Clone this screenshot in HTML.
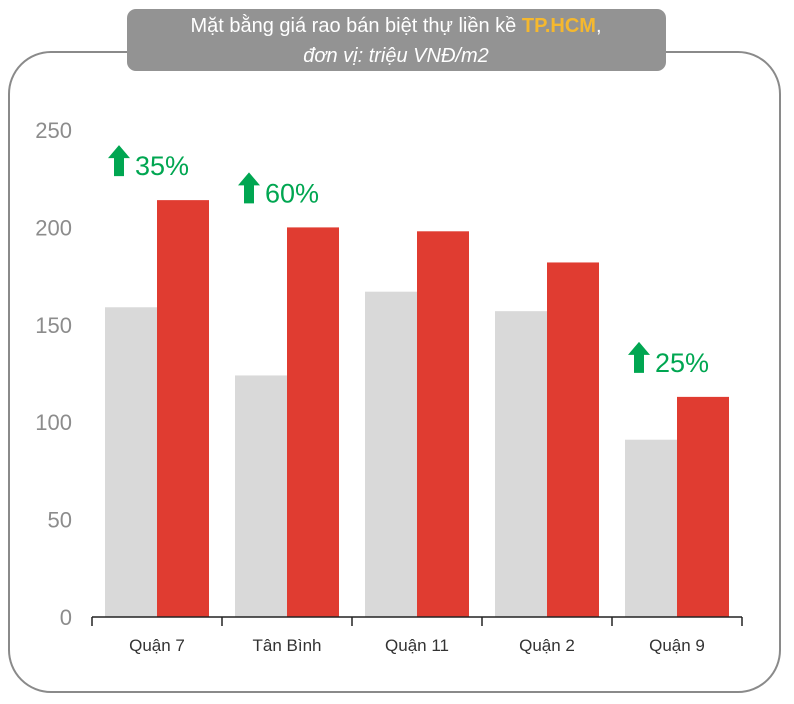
<!DOCTYPE html>
<html><head><meta charset="utf-8"><style>
body{margin:0;width:794px;height:699px;background:#fff;overflow:hidden;font-family:"Liberation Sans",sans-serif}
</style></head><body>
<svg width="794" height="699">
<rect x="9" y="52" width="771" height="640" rx="42" fill="#fff" stroke="#8a8a8a" stroke-width="2"/>
<rect x="127" y="9" width="539" height="62" rx="9" fill="#939393"/>
<text x="396" y="32" text-anchor="middle" font-size="20" fill="#fff">Mặt bằng giá rao bán biệt thự liền kề <tspan fill="#f5b82e" font-weight="bold">TP.HCM</tspan>,</text>
<text x="396" y="62" text-anchor="middle" font-size="20" fill="#fff" font-style="italic">đơn vị: triệu VNĐ/m2</text>
<g id="plot"></g>
</svg>
<script>
const categories=["Quận 7","Tân Bình","Quận 11","Quận 2","Quận 9"];
const prevValues=[159,124,167,157,91];
const currValues=[214,200,198,182,113];
const yTicks=[0,50,100,150,200,250];
const growthLabels=["35%","60%",null,null,"25%"];
const NS="http://www.w3.org/2000/svg";
const g=document.getElementById('plot');
const x0=92,x1=742,y0=617,yTop=130,yMax=250;
const band=(x1-x0)/categories.length;
const y=v=>y0-(v/yMax)*(y0-yTop);
function mk(t,a){const e=document.createElementNS(NS,t);for(const k in a)e.setAttribute(k,a[k]);g.appendChild(e);return e;}
yTicks.forEach(t=>{const e=mk('text',{x:72,y:y(t)+8,'text-anchor':'end','font-size':22,fill:'#8c8c8c'});e.textContent=t;

});
categories.forEach((c,i)=>{
 const cx=x0+band*(i+0.5),bw=52;
 const b1=mk('rect',{x:cx-bw,y:y(prevValues[i]),width:bw,height:y0-y(prevValues[i]),fill:'#d9d9d9'});
 
 
 const b2=mk('rect',{x:cx,y:y(currValues[i]),width:bw,height:y0-y(currValues[i]),fill:'#e03c31'});
 
 
 const l=mk('text',{x:cx,y:651,'text-anchor':'middle','font-size':17,fill:'#333'});l.textContent=c;
 
 
 if(growthLabels[i]){
  const ty=y(currValues[i])-36;
  const ax=cx-38;
  const ar=mk('path',{d:`M${ax-11} ${ty-6} L${ax} ${ty-19} L${ax+11} ${ty-6} L${ax+5} ${ty-6} L${ax+5} ${ty+12} L${ax-5} ${ty+12} L${ax-5} ${ty-6} Z`,fill:'#00a651'});
  
  
  const t=mk('text',{x:ax+16,y:ty+11,'font-size':27,fill:'#00a651'});t.textContent=growthLabels[i];
  
  
 }
});
const ax=mk('line',{x1:x0,y1:y0,x2:x1,y2:y0,stroke:'#222','stroke-width':1.5});


for(let i=0;i<=categories.length;i++){const tk=mk('line',{x1:x0+band*i,y1:y0,x2:x0+band*i,y2:y0+9,stroke:'#222','stroke-width':1.5});

}
</script>
</body></html>
